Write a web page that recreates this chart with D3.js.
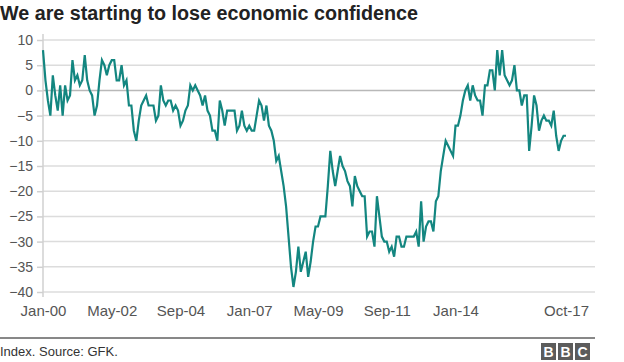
<!DOCTYPE html>
<html>
<head>
<meta charset="utf-8">
<script src="https://cdn.jsdelivr.net/npm/d3@7/dist/d3.min.js"></script>
<style>
  body { margin: 0; background: #fff; }
  svg { display: block; font-family: "Liberation Sans", Arial, Helvetica, sans-serif; }
</style>
</head>
<body>
<svg id="chart" width="624" height="362"></svg>
<script>
/* globals d3 */

// GfK consumer confidence index, monthly, Jan 2000 - Oct 2017
var confidence = [
  8, 2, -2, -5, 3, -1, -4, 1, -5, 1, -2, -1,               // 2000
  6, 2, 3, 1, 2, 7, 2, 0, -1, -5, -3, 2,                   // 2001
  6, 5, 3, 5, 6, 6, 2, 2, 5, 1, 2, -3,                     // 2002
  -3, -8, -10, -6, -3, -2, -1, -3, -3, -3, -6, -5,         // 2003
  1, -2, -3, -2, -2, -4, -3, -4, -7, -6, -4, -3,           // 2004
  1, 0, 1, 0, -1, -3, -1, -4, -5, -8, -8, -10,             // 2005
  -2, -4, -7, -4, -4, -4, -4, -8, -7, -4, -7, -8,          // 2006
  -7, -8, -8, -5, -2, -3, -6, -3, -7, -8, -10, -14,        // 2007
  -13, -16, -19, -23, -29, -35, -39, -36, -31, -36, -34, -32, // 2008
  -37, -34, -30, -27, -27, -25, -25, -25, -19, -12, -16, -19, // 2009
  -16, -13, -15, -16, -18, -19, -23, -17, -19, -20, -21, -21, // 2010
  -29, -28, -28, -31, -21, -25, -29, -30, -30, -32, -31, -33, // 2011
  -29, -29, -31, -31, -29, -29, -29, -29, -28, -31, -22, -30, // 2012
  -27, -26, -26, -28, -22, -21, -16, -13, -10, -11, -12, -13, // 2013
  -7, -7, -5, -2, 0, 1, -2, 1, -1, -2, -2, -5,             // 2014
  1, 1, 4, 4, 0, 8, 3, 8, 3, 2, 1, 2,                      // 2015
  5, 0, 0, -3, -1, -1, -12, -7, -1, -3, -8, -6,            // 2016
  -5, -6, -6, -7, -4, -9, -12, -10, -9, -9                 // 2017
];

var tickMonths = [0, 28, 56, 84, 112, 140, 168, 213];
var tickLabels = ['Jan-00', 'May-02', 'Sep-04', 'Jan-07', 'May-09', 'Sep-11', 'Jan-14', 'Oct-17'];
var yTicks = [10, 5, 0, -5, -10, -15, -20, -25, -30, -35, -40];

var svg = d3.select('#chart');

var x = d3.scaleLinear()
  .domain([0, confidence.length - 1])
  .range([43, 566]);

var y = d3.scaleLinear()
  .domain([-40, 10])
  .range([292, 40]);

// Title
svg.append('text')
  .attr('x', 0)
  .attr('y', 20)
  .attr('font-size', 20)
  .attr('font-weight', 'bold')
  .attr('fill', '#222')
  .attr('textLength', 418)
  .attr('lengthAdjust', 'spacingAndGlyphs')
  .text('We are starting to lose economic confidence');

// Grid lines
svg.append('g')
  .selectAll('line')
  .data(yTicks)
  .enter().append('line')
  .attr('x1', 43)
  .attr('x2', 595)
  .attr('y1', function (d) { return y(d); })
  .attr('y2', function (d) { return y(d); })
  .attr('stroke', function (d) { return d === 0 ? '#b8b8b8' : '#dcdcdc'; })
  .attr('stroke-width', 1.5);

// Y axis
var yAxis = svg.append('g')
  .attr('transform', 'translate(43,0)')
  .call(d3.axisLeft(y).tickValues(yTicks).tickSize(6).tickPadding(4));

yAxis.select('.domain')
  .attr('d', 'M0,34V297')
  .attr('stroke', '#d0d0d0')
  .attr('stroke-width', 1.5);

yAxis.selectAll('.tick line')
  .attr('stroke', '#d0d0d0')
  .attr('stroke-width', 1.5);

yAxis.selectAll('.tick text')
  .attr('font-size', 14)
  .attr('font-family', '"Liberation Sans", Arial, sans-serif')
  .attr('fill', '#555');

// X axis labels
var xAxis = svg.append('g')
  .attr('transform', 'translate(0,305)')
  .call(d3.axisBottom(x)
    .tickValues(tickMonths)
    .tickFormat(function (d, i) { return tickLabels[i]; })
    .tickSize(0)
    .tickPadding(0));

xAxis.select('.domain').remove();

xAxis.selectAll('.tick text')
  .attr('font-size', 15)
  .attr('font-family', '"Liberation Sans", Arial, sans-serif')
  .attr('fill', '#555');

// Confidence line
var line = d3.line()
  .x(function (d, i) { return x(i); })
  .y(function (d) { return y(d); });

svg.append('path')
  .datum(confidence)
  .attr('d', line)
  .attr('fill', 'none')
  .attr('stroke', '#138680')
  .attr('stroke-width', 2.2);

// Footer
svg.append('line')
  .attr('x1', 0)
  .attr('x2', 595)
  .attr('y1', 338)
  .attr('y2', 338)
  .attr('stroke', '#111')
  .attr('stroke-width', 1);

svg.append('text')
  .attr('x', 0)
  .attr('y', 356)
  .attr('font-size', 13)
  .attr('fill', '#333')
  .text('Index. Source: GFK.');

var logo = svg.append('g')
  .attr('transform', 'translate(541,343)');

logo.selectAll('rect')
  .data(['B', 'B', 'C'])
  .enter().append('rect')
  .attr('x', function (d, i) { return i * 17; })
  .attr('width', 15)
  .attr('height', 17)
  .attr('fill', '#5c5c5c');

logo.selectAll('text')
  .data(['B', 'B', 'C'])
  .enter().append('text')
  .attr('x', function (d, i) { return i * 17 + 7.5; })
  .attr('y', 13.5)
  .attr('text-anchor', 'middle')
  .attr('font-size', 14)
  .attr('font-weight', 'bold')
  .attr('fill', '#fff')
  .text(function (d) { return d; });
</script>
</body>
</html>
